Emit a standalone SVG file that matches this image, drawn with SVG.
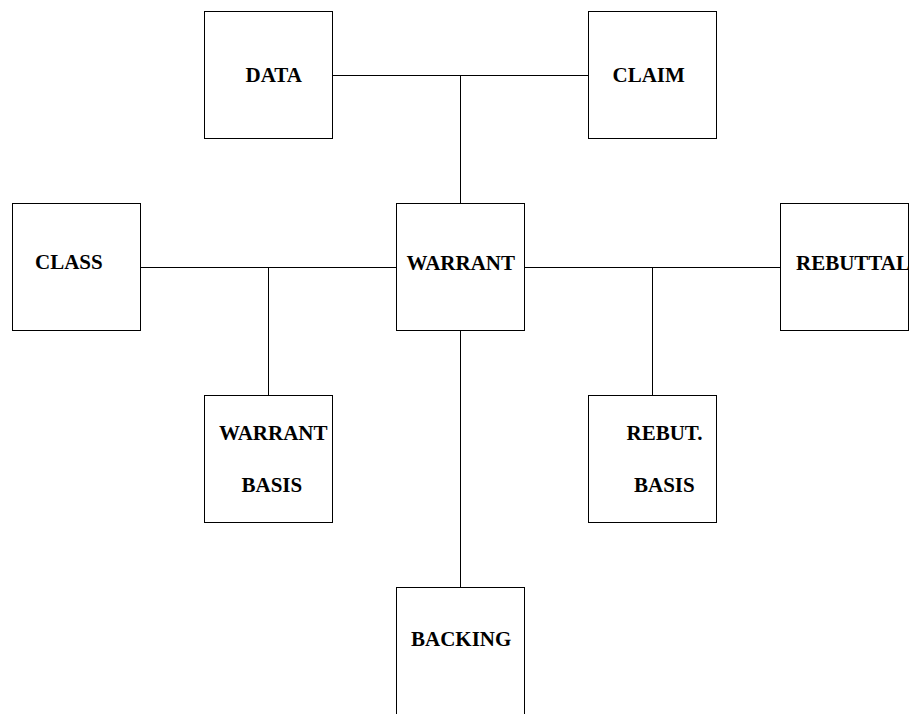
<svg xmlns="http://www.w3.org/2000/svg" width="909" height="714" viewBox="0 0 909 714">
<style>
.box{fill:#fff;stroke:#000;stroke-width:1}
.lbl{font-family:"Liberation Serif","Times New Roman",serif;font-weight:bold;font-size:21px;fill:#000}
.con{stroke:#000;stroke-width:1;fill:none}
</style>
<rect width="909" height="714" fill="#fff"/>
<g id="connectors">
<path class="con" d="M332.5 75.5H588.5M460.5 75.5V203.5"/>
<path class="con" d="M140.5 267.5H396.5M268.5 267.5V395.5"/>
<path class="con" d="M524.5 267.5H780.5M652.5 267.5V395.5"/>
<path class="con" d="M460.5 330.5V587.5"/>
</g>
<g id="data"><rect class="box" x="204.5" y="11.5" width="128" height="127"/><text class="lbl" x="245.5" y="82">DATA</text></g>
<g id="claim"><rect class="box" x="588.5" y="11.5" width="128" height="127"/><text class="lbl" x="612.5" y="82">CLAIM</text></g>
<g id="class"><rect class="box" x="12.5" y="203.5" width="128" height="127"/><text class="lbl" x="35" y="269">CLASS</text></g>
<g id="warrant"><rect class="box" x="396.5" y="203.5" width="128" height="127"/><text class="lbl" x="406.5" y="270">WARRANT</text></g>
<g id="rebuttal"><rect class="box" x="780.5" y="203.5" width="128" height="127"/><text class="lbl" x="796" y="270">REBUTTAL</text></g>
<g id="warrant-basis"><rect class="box" x="204.5" y="395.5" width="128" height="127"/><text class="lbl" x="219" y="440">WARRANT</text><text class="lbl" x="241.5" y="491.5">BASIS</text></g>
<g id="rebut-basis"><rect class="box" x="588.5" y="395.5" width="128" height="127"/><text class="lbl" x="626.5" y="440">REBUT.</text><text class="lbl" x="634" y="491.5">BASIS</text></g>
<g id="backing"><rect class="box" x="396.5" y="587.5" width="128" height="140"/><text class="lbl" x="411" y="646">BACKING</text></g>
</svg>
